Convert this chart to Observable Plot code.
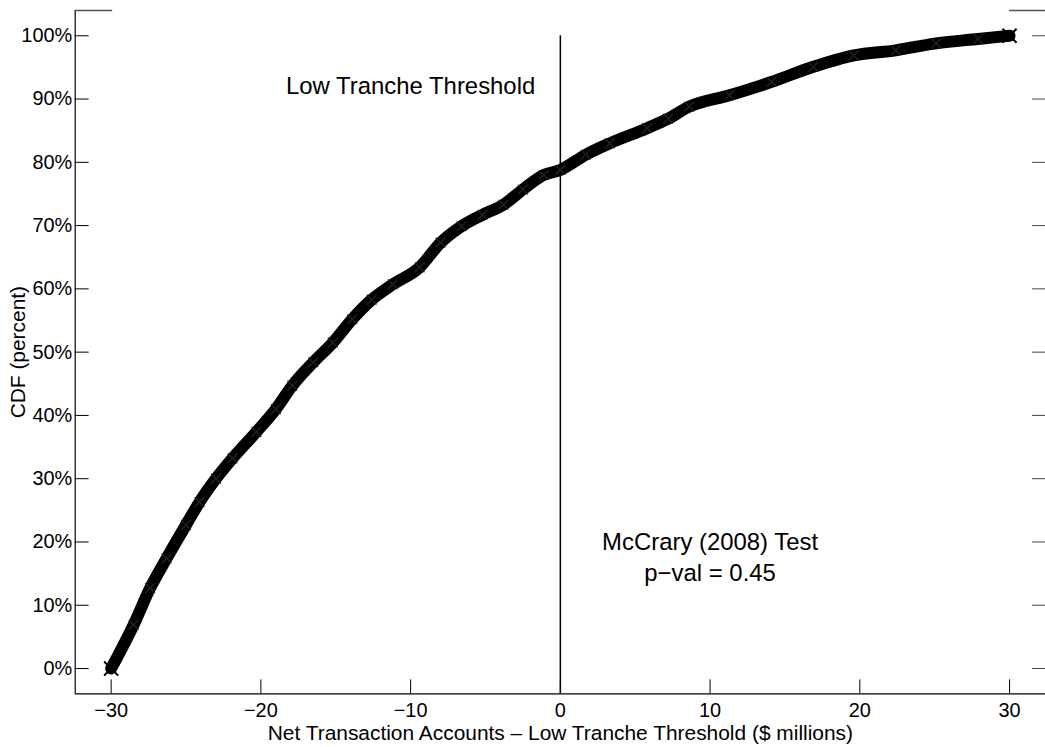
<!DOCTYPE html>
<html>
<head>
<meta charset="utf-8">
<script src="https://cdn.jsdelivr.net/npm/d3@7"></script>
<script src="https://cdn.jsdelivr.net/npm/@observablehq/plot@0.6"></script>
<style>
  html, body { margin: 0; padding: 0; background: #fff; overflow: hidden; }
  #chart { width: 1045px; height: 747px; overflow: hidden; }
  #chart svg { display: block; }
</style>
</head>
<body>
<div id="chart"></div>
<script>
// Empirical CDF of net transaction accounts relative to the low tranche threshold
const netAccounts = [
  -30, -28.5, -27.4, -26.3, -25.0, -24.1, -23.0, -21.9, -20.3, -19.0,
  -17.9, -16.5, -15.2, -13.9, -12.6, -11.2, -9.4, -8.0, -6.6, -5.2,
  -3.8, -2.5, -1.1, 0, 1.7, 3.3, 5.8, 7.2, 8.6, 11.3,
  14.1, 16.9, 19.6, 22.4, 25.1, 27.9, 30
];
const cdfPercent = [
  0, 6.9, 12.7, 17.4, 22.7, 26.3, 30.0, 33.2, 37.4, 41.0,
  44.7, 48.4, 51.5, 55.2, 58.3, 60.7, 63.4, 67.3, 69.9, 71.7,
  73.3, 75.7, 78.0, 78.8, 81.2, 83.0, 85.4, 86.9, 88.8, 90.6,
  92.7, 95.1, 96.9, 97.7, 98.8, 99.5, 100
];

const xTicks = [-30, -20, -10, 0, 10, 20, 30];
const yTicks = [0, 10, 20, 30, 40, 50, 60, 70, 80, 90, 100];
const xDomain = [-32.4, 32.4];
const yDomain = [-4, 104];
const threshold = 0;

const xLabel = "Net Transaction Accounts \u2013 Low Tranche Threshold ($ millions)";
const yLabel = "CDF (percent)";
const notes = [
  {text: "Low Tranche Threshold", x: -10, y: 92},
  {text: "McCrary (2008) Test", x: 10, y: 20},
  {text: "p\u2212val = 0.45", x: 10, y: 15}
];
// pieces of the upper border line that remain at the two corners
const topBorder = [
  {x1: -32.4, x2: -29.9},
  {x1: 30.0, x2: 32.4}
];

const points = netAccounts.map((x, i) => ({x, pct: cdfPercent[i]}));
const endPoints = [points[0], points[points.length - 1]];
const fmtX = d => (d < 0 ? "\u2212" + Math.abs(d) : String(d));
const font = "'Liberation Sans', Arial, Helvetica, sans-serif";

const chart = Plot.plot({
  width: 1049,
  height: 747,
  marginLeft: 75,
  marginRight: 0,
  marginTop: 10,
  marginBottom: 51,
  style: {fontFamily: font, fontSize: "20px", color: "#000", background: "#fff"},
  x: {domain: xDomain},
  y: {domain: yDomain},
  marks: [
    // axis lines
    Plot.ruleX([xDomain[0]], {stroke: "#000", strokeWidth: 1.2}),
    Plot.ruleY([yDomain[0]], {stroke: "#000", strokeWidth: 1.2}),
    Plot.ruleY(topBorder, {y: () => yDomain[1], x1: "x1", x2: "x2", stroke: "#555", strokeWidth: 1.5}),
    // inward ticks
    Plot.axisX(xTicks, {tickSize: 14, dy: -14, fill: "none", stroke: "#000"}),
    Plot.axisY(yTicks, {tickSize: 14, dx: 14, fill: "none", stroke: "#000"}),
    Plot.axisY(yTicks, {anchor: "right", tickSize: 14, dx: -14, fill: "none", stroke: "#444"}),
    // tick labels
    Plot.axisX(xTicks, {tickSize: 0, tickPadding: 9, tickFormat: fmtX, label: null, fontSize: 20}),
    Plot.axisY(yTicks, {tickSize: 0, tickPadding: 3, tickFormat: d => d + "%", label: null, fontSize: 20}),
    // axis titles
    Plot.text([xLabel], {frameAnchor: "bottom", dy: 31, lineAnchor: "top", text: d => d, fontSize: 21, fill: "#000"}),
    Plot.text([yLabel], {frameAnchor: "left", textAnchor: "middle", dx: -57, rotate: -90, text: d => d, fontSize: 21, fill: "#000"}),
    // threshold
    Plot.ruleX([threshold], {y1: yDomain[0], y2: 100, stroke: "#000", strokeWidth: 1.5}),
    // CDF band of observations
    Plot.line(points, {x: "x", y: "pct", curve: "monotone-x", stroke: "#000", strokeWidth: 12, strokeLinejoin: "round"}),
    Plot.dot(points, {x: "x", y: "pct", symbol: "times", r: 4.5, stroke: "#222", strokeWidth: 1.4}),
    Plot.dot(endPoints, {x: "x", y: "pct", symbol: "times", r: 6.5, stroke: "#000", strokeWidth: 2}),
    // annotations
    Plot.text(notes, {x: "x", y: "y", text: "text", fontSize: 24, fill: "#000"})
  ]
});

document.getElementById("chart").append(chart);
</script>
</body>
</html>
